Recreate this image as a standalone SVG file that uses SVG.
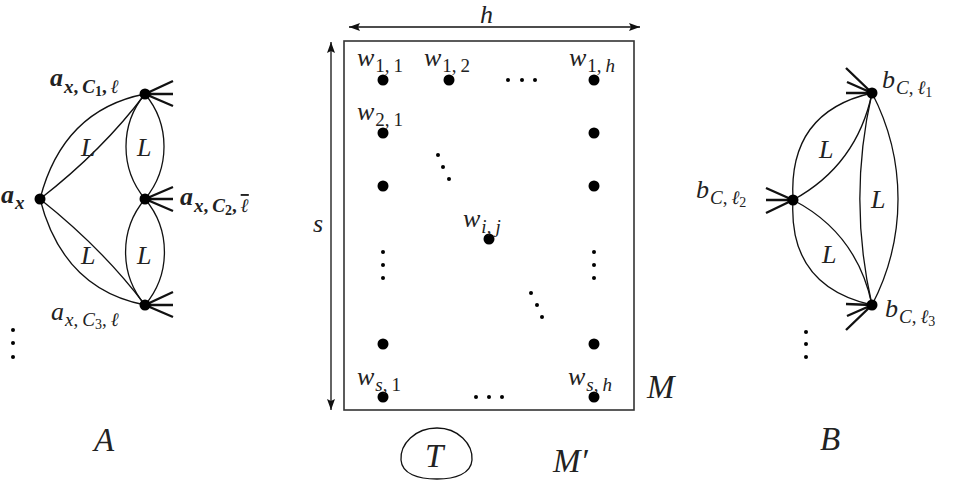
<svg xmlns="http://www.w3.org/2000/svg" width="953" height="481" viewBox="0 0 953 481">
<defs>
<style>
.e{fill:none;stroke:#111;stroke-width:1.3}
.sp{stroke:#111;stroke-width:2.4;fill:none}
.dot{fill:#000}
.t{font-family:"Liberation Serif","DejaVu Serif",serif;font-style:italic;font-size:26px;fill:#222}
.big{font-size:33px}
.b{font-weight:bold}
.s{font-size:19px}
.ss{font-size:14px}
.u{font-style:normal}
.ov{text-decoration:overline}
.frame{fill:none;stroke:#333;stroke-width:1.6}
</style>
<marker id="ah" viewBox="0 0 11 8" markerWidth="11" markerHeight="8" refX="11" refY="4" orient="auto-start-reverse" markerUnits="userSpaceOnUse">
<path d="M0,0 L11,4 L0,8 L2,4 z" fill="#111"/>
</marker>
</defs>
<rect width="953" height="481" fill="#fff"/>

<g id="connectors">
<path class="e" d="M40,199 Q103,150 145,94"/>
<path class="e" d="M40,199 Q63,110 145,94"/>
<path class="e" d="M40,199 Q103,249 145,305"/>
<path class="e" d="M40,199 Q63,289 145,305"/>
<path class="e" d="M145,94 A82,82 0 0 0 145,199"/>
<path class="e" d="M145,94 A82,82 0 0 1 145,199"/>
<path class="e" d="M145,199 A82,82 0 0 0 145,305"/>
<path class="e" d="M145,199 A82,82 0 0 1 145,305"/>
<path class="sp" d="M145,94 L173,81 M145,94 L173,94 M145,94 L173,106"/>
<path class="sp" d="M145,199 L173,187 M145,199 L173,199 M145,199 L173,211"/>
<path class="sp" d="M145,305 L173,292 M145,305 L173,305 M145,305 L173,317"/>
<path class="e" d="M793,200 Q857,165 872,93"/>
<path class="e" d="M793,200 Q788,112 872,93"/>
<path class="e" d="M793,200 Q857,233 872,305"/>
<path class="e" d="M793,200 Q788,286 872,305"/>
<path class="e" d="M872,93 A474,474 0 0 0 872,305"/>
<path class="e" d="M872,93 A229,229 0 0 1 872,305"/>
<path class="sp" d="M872,93 L846,68 M872,93 L847,82 M872,93 L846,93"/>
<path class="sp" d="M793,200 L766,188 M793,200 L766,200 M793,200 L766,213"/>
<path class="sp" d="M872,305 L846,304 M872,305 L847,316 M872,305 L846,330"/>
<line class="e" x1="349" y1="27" x2="640" y2="27" marker-start="url(#ah)" marker-end="url(#ah)"/>
<line class="e" x1="331" y1="42" x2="331" y2="410" marker-start="url(#ah)" marker-end="url(#ah)"/>
</g>

<g id="edge-labels">
<text class="t" x="81" y="156">L</text>
<text class="t" x="137" y="156">L</text>
<text class="t" x="81" y="264">L</text>
<text class="t" x="137" y="264">L</text>
<text class="t" x="819" y="158">L</text>
<text class="t" x="871" y="208">L</text>
<text class="t" x="822" y="263">L</text>
</g>

<g id="node-ax">
<circle class="dot" cx="40" cy="199" r="5.5"/>
<text class="t b" x="1" y="203">a<tspan class="s" dy="6" dx="1">x</tspan></text>
</g>
<g id="node-axC1">
<circle class="dot" cx="145" cy="94" r="5.5"/>
<text class="t b" x="50" y="86">a<tspan class="s" dy="7" dx="1">x</tspan><tspan class="s u">,</tspan><tspan class="s" dx="4">C</tspan><tspan class="ss u" dy="3">1</tspan><tspan class="s u" dy="-3">,</tspan><tspan class="s" dx="4">ℓ</tspan></text>
</g>
<g id="node-axC2">
<circle class="dot" cx="145" cy="199" r="5.5"/>
<text class="t b" x="180" y="205">a<tspan class="s" dy="7" dx="1">x</tspan><tspan class="s u">,</tspan><tspan class="s" dx="4">C</tspan><tspan class="ss u" dy="3">2</tspan><tspan class="s u" dy="-3">,</tspan><tspan class="s ov" dx="4">ℓ</tspan></text>
</g>
<g id="node-axC3">
<circle class="dot" cx="145" cy="305" r="5.5"/>
<text class="t" x="51" y="320">a<tspan class="s" dy="6" dx="1">x</tspan><tspan class="s u">,</tspan><tspan class="s" dx="4">C</tspan><tspan class="ss u" dy="3">3</tspan><tspan class="s u" dy="-3">,</tspan><tspan class="s" dx="4">ℓ</tspan></text>
</g>
<g id="vdots-A">
<circle class="dot" cx="13" cy="330" r="2"/>
<circle class="dot" cx="13" cy="343" r="2"/>
<circle class="dot" cx="13" cy="357" r="2"/>
</g>
<text class="t big" x="94" y="451">A</text>

<g id="node-b1">
<circle class="dot" cx="872" cy="93" r="5.5"/>
<text class="t" x="882" y="88">b<tspan class="s" dy="6" dx="1">C</tspan><tspan class="s u">,</tspan><tspan class="s" dx="4">ℓ</tspan><tspan class="ss u" dy="3">1</tspan></text>
</g>
<g id="node-b2">
<circle class="dot" cx="793" cy="200" r="5.5"/>
<text class="t" x="696" y="198">b<tspan class="s" dy="6" dx="1">C</tspan><tspan class="s u">,</tspan><tspan class="s" dx="4">ℓ</tspan><tspan class="ss u" dy="3">2</tspan></text>
</g>
<g id="node-b3">
<circle class="dot" cx="872" cy="305" r="5.5"/>
<text class="t" x="885" y="317">b<tspan class="s" dy="6" dx="1">C</tspan><tspan class="s u">,</tspan><tspan class="s" dx="4">ℓ</tspan><tspan class="ss u" dy="3">3</tspan></text>
</g>
<g id="vdots-B">
<circle class="dot" cx="806" cy="332" r="2"/>
<circle class="dot" cx="806" cy="344" r="2"/>
<circle class="dot" cx="806" cy="357" r="2"/>
</g>
<text class="t big" x="820" y="450">B</text>

<g id="matrix-M">
<rect class="frame" x="344" y="41" width="290" height="369"/>
<text class="t" x="480" y="23">h</text>
<text class="t" x="313" y="232">s</text>
<text class="t big" x="647" y="398">M</text>
</g>

<g id="w11"><circle class="dot" cx="383" cy="80" r="5.5"/><text class="t" x="357" y="66">w<tspan class="s u" dy="6" dx="1">1,</tspan><tspan class="s u" dx="4">1</tspan></text></g>
<g id="w12"><circle class="dot" cx="449" cy="80" r="5.5"/><text class="t" x="424" y="66">w<tspan class="s u" dy="6" dx="1">1,</tspan><tspan class="s u" dx="4">2</tspan></text></g>
<g id="w1h"><circle class="dot" cx="594" cy="80" r="5.5"/><text class="t" x="569" y="66">w<tspan class="s u" dy="6" dx="1">1,</tspan><tspan class="s" dx="4">h</tspan></text></g>
<g id="w21"><circle class="dot" cx="383" cy="133" r="5.5"/><text class="t" x="357" y="120">w<tspan class="s u" dy="6" dx="1">2,</tspan><tspan class="s u" dx="4">1</tspan></text></g>
<g id="w2h"><circle class="dot" cx="594" cy="133" r="5.5"/></g>
<g id="w31"><circle class="dot" cx="383" cy="186" r="5.5"/></g>
<g id="w3h"><circle class="dot" cx="594" cy="186" r="5.5"/></g>
<g id="wij"><circle class="dot" cx="489" cy="239" r="5.5"/><text class="t" x="463" y="227">w<tspan class="s" dy="6" dx="1">i</tspan><tspan class="s u">,</tspan><tspan class="s" dx="4">j</tspan></text></g>
<g id="ws11"><circle class="dot" cx="383" cy="344" r="5.5"/></g>
<g id="ws1h"><circle class="dot" cx="594" cy="344" r="5.5"/></g>
<g id="ws1"><circle class="dot" cx="383" cy="397" r="5.5"/><text class="t" x="357" y="385">w<tspan class="s" dy="6" dx="1">s</tspan><tspan class="s u">,</tspan><tspan class="s u" dx="4">1</tspan></text></g>
<g id="wsh"><circle class="dot" cx="594" cy="397" r="5.5"/><text class="t" x="568" y="385">w<tspan class="s" dy="6" dx="1">s</tspan><tspan class="s u">,</tspan><tspan class="s" dx="4">h</tspan></text></g>

<g id="ellipsis">
<circle class="dot" cx="508" cy="80" r="2"/><circle class="dot" cx="522" cy="80" r="2"/><circle class="dot" cx="535" cy="80" r="2"/>
<circle class="dot" cx="438" cy="155" r="2"/><circle class="dot" cx="443" cy="167" r="2"/><circle class="dot" cx="449" cy="179" r="2"/>
<circle class="dot" cx="383" cy="252" r="2"/><circle class="dot" cx="383" cy="265" r="2"/><circle class="dot" cx="383" cy="278" r="2"/>
<circle class="dot" cx="594" cy="252" r="2"/><circle class="dot" cx="594" cy="265" r="2"/><circle class="dot" cx="594" cy="278" r="2"/>
<circle class="dot" cx="531" cy="293" r="2"/><circle class="dot" cx="537" cy="305" r="2"/><circle class="dot" cx="542" cy="317" r="2"/>
<circle class="dot" cx="476" cy="397" r="2"/><circle class="dot" cx="489" cy="397" r="2"/><circle class="dot" cx="502" cy="397" r="2"/>
</g>

<g id="node-T">
<path class="e" d="M437,428 C458,428 473,444 472,460 C471,474 455,479 437,479 C418,479 402,474 401,460 C400,444 415,428 437,428 Z"/>
<text class="t big" x="425" y="467">T</text>
</g>
<g id="label-Mprime">
<text class="t big" x="553" y="472">M′</text>
</g>
</svg>
